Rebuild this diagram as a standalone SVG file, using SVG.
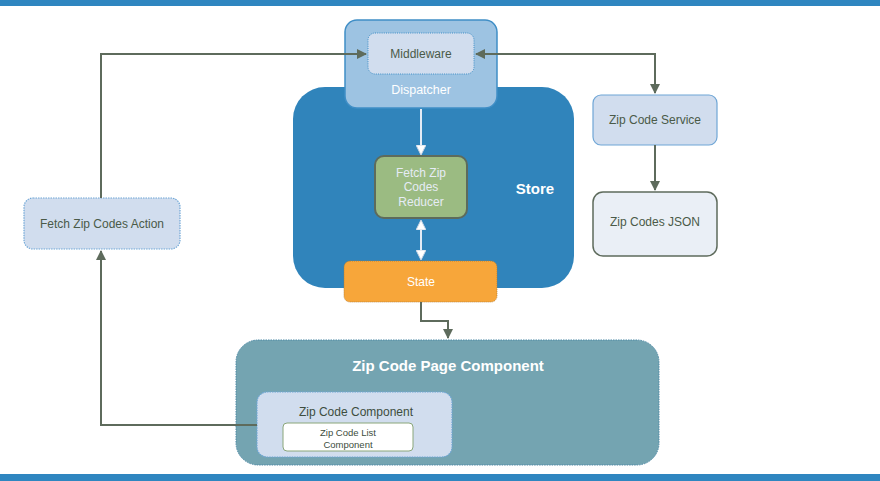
<svg xmlns="http://www.w3.org/2000/svg" width="880" height="481" viewBox="0 0 880 481">
<style>
.t{font-family:"Liberation Sans",Arial,sans-serif;text-anchor:middle;dominant-baseline:central}
.dk{fill:#4a5a48;font-size:12px}
.wh{fill:#ffffff}
.conn{fill:none;stroke:#5e6b5c;stroke-width:2}
.wconn{fill:none;stroke:#e4ebf5;stroke-width:2}
.lb{fill:#d1ddee;stroke:#6fa6d6;stroke-width:1.2;stroke-dasharray:1.5 1}
</style>
<defs>
<marker id="ah" viewBox="0 0 10 10" refX="9" refY="5" markerWidth="5" markerHeight="5" orient="auto-start-reverse" markerUnits="strokeWidth">
<path d="M0,0 L10,5 L0,10 z" fill="#5e6b5c"/>
</marker>
<marker id="wh" viewBox="0 0 10 10" refX="9" refY="5" markerWidth="5" markerHeight="5" orient="auto-start-reverse" markerUnits="strokeWidth">
<path d="M0,0 L10,5 L0,10 z" fill="#ffffff" stroke="#c8d4e4" stroke-width="1"/>
</marker>
</defs>
<rect x="0" y="0" width="880" height="6" fill="#2f86c0"/>
<rect x="0" y="474" width="880" height="7" fill="#2f86c0"/>

<g id="store">
<rect x="293" y="87" width="281" height="201" rx="32" fill="#3084bb"/>
<text class="t wh" x="535" y="188" font-size="15" font-weight="bold">Store</text>
</g>

<g id="dispatcher">
<rect x="345" y="20" width="152" height="88" rx="12" fill="#9dc3e2" stroke="#3f8ec6" stroke-width="1.5"/>
<text class="t wh" x="421" y="90" font-size="12.5">Dispatcher</text>
</g>
<g id="middleware">
<rect x="368" y="33" width="106" height="41" rx="7" fill="#d1ddee" stroke="#3f8ec6" stroke-width="1" stroke-dasharray="1 1.2"/>
<text class="t dk" x="421" y="54">Middleware</text>
</g>

<g id="reducer">
<rect x="375" y="156" width="92" height="62" rx="9" fill="#9bbb82" stroke="#5d6b5c" stroke-width="2"/>
<text class="t" x="421" y="173" font-size="12" fill="#e6ecf5">Fetch Zip</text>
<text class="t" x="421" y="187" font-size="12" fill="#e6ecf5">Codes</text>
<text class="t" x="421" y="202" font-size="12" fill="#e6ecf5">Reducer</text>
</g>

<g id="state">
<rect x="344" y="261" width="153" height="41" rx="6" fill="#f7a63a" stroke="#b07a30" stroke-width="0.8" stroke-dasharray="1 1"/>
<text class="t wh" x="421" y="282" font-size="12">State</text>
</g>

<g id="page-component">
<rect x="236" y="340" width="423" height="125" rx="22" fill="#74a4b1" stroke="#4f8aa6" stroke-width="1" stroke-dasharray="1.5 1"/>
<text class="t wh" x="448" y="365" font-size="15" font-weight="bold">Zip Code Page Component</text>
</g>
<g id="zip-code-component">
<rect x="257" y="392" width="195" height="65" rx="10" class="lb"/>
<text class="t" x="356" y="412" font-size="12" fill="#3d4d3d">Zip Code Component</text>
</g>
<g id="zip-code-list-component">
<rect x="283" y="423" width="130" height="28" rx="4" fill="#ffffff" stroke="#8aa67a" stroke-width="1"/>
<text class="t" x="348" y="432" font-size="9.5" fill="#3d4d3d">Zip Code List</text>
<text class="t" x="348" y="444" font-size="9.5" fill="#3d4d3d">Component</text>
</g>

<g id="fetch-action">
<rect x="24" y="198" width="156" height="51" rx="9" class="lb"/>
<text class="t dk" x="102" y="224">Fetch Zip Codes Action</text>
</g>

<g id="zip-code-service">
<rect x="593" y="95" width="124" height="50" rx="8" fill="#d1ddee" stroke="#6fa6d6" stroke-width="1.2"/>
<text class="t dk" x="655" y="120">Zip Code Service</text>
</g>
<g id="zip-codes-json">
<rect x="593" y="192" width="124" height="64" rx="10" fill="#eaeff6" stroke="#5e6b5c" stroke-width="1.5"/>
<text class="t dk" x="655" y="222">Zip Codes JSON</text>
</g>

<g id="connectors">
<path class="conn" d="M101,198 V54 H366" marker-end="url(#ah)"/>
<path class="conn" d="M476,54 H655 V93" marker-start="url(#ah)" marker-end="url(#ah)"/>
<path class="conn" d="M655,145 V190" marker-end="url(#ah)"/>
<path class="conn" d="M257,425 H101 V251" marker-end="url(#ah)"/>
<path class="conn" d="M421,302 V321 H448 V338" marker-end="url(#ah)"/>
<path class="wconn" d="M421,109 V154" marker-end="url(#wh)"/>
<path class="wconn" d="M421,221 V259" marker-start="url(#wh)" marker-end="url(#wh)"/>
</g>
</svg>
